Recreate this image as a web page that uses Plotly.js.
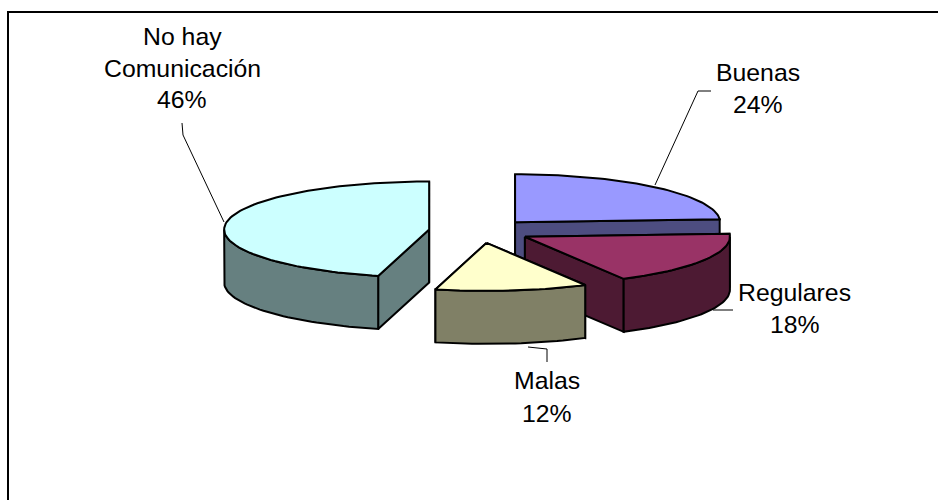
<!DOCTYPE html>
<html>
<head>
<meta charset="utf-8">
<script src="https://cdn.plot.ly/plotly-3.0.1.min.js"></script>
<style>html,body{margin:0;padding:0;background:#fff}#chart{width:938px;height:500px}</style>
</head>
<body>
<div id="chart"></div>
<script>
// Data
const categories = ["Buenas", "Regulares", "Malas", "No hay Comunicación"];
const values = [24, 18, 12, 46];
const topColors = ["#9999FF", "#993366", "#FFFFCC", "#CCFFFF"];
const sideColors = ["#4D4D80", "#4D1A33", "#808066", "#668080"];

// Projection of the tilted pie, in the pixel-sized axis space
const pie = {cx: 480, cy: 231, rx: 205, ry: 48, depth: 53, explode: 0.25};
const drawOrder = [0, 3, 1, 2];
const labelLines = [["Buenas"], ["Regulares"], ["Malas"], ["No hay", "Comunicación"]];
const labelPlace = [
  {x: 758, base: 81, step: 32},
  {x: 794.5, base: 301, step: 31.5},
  {x: 547, base: 389, step: 32.5},
  {x: 182, base: 45, step: 31.5}
];
const leaders = [
  "M711,91 L698,91 L655,185",
  "M733,310 L713,310",
  "M547,362 L547,349 L528,347",
  "M182,123 L183,135 L224,222"
];
const fontSize = 24.8;

const total = values.reduce((a, b) => a + b, 0);
const traces = [];
function polygon(xs, ys, fill) {
  traces.push({
    type: "scatter", mode: "lines", x: xs.concat(xs[0]), y: ys.concat(ys[0]),
    fill: "toself", fillcolor: fill,
    line: {color: "#000", width: 2}, hoverinfo: "skip", showlegend: false
  });
}
function arc(s, from, to) {
  const n = Math.max(4, Math.round((to - from) / 0.03));
  const xs = [], ys = [];
  for (let k = 0; k <= n; k++) {
    const t = from + (to - from) * k / n;
    xs.push(s.ox + pie.rx * Math.sin(t));
    ys.push(s.oy - pie.ry * Math.cos(t));
  }
  return {xs, ys};
}
let cum = 0;
const slices = values.map((v) => {
  const a0 = cum / total * 2 * Math.PI;
  cum += v;
  const a1 = cum / total * 2 * Math.PI;
  const mid = (a0 + a1) / 2;
  return {
    a0, a1,
    ox: pie.cx + pie.explode * pie.rx * Math.sin(mid),
    oy: pie.cy - pie.explode * pie.ry * Math.cos(mid)
  };
});
drawOrder.forEach((i) => {
  const s = slices[i];
  const d = pie.depth;
  const top = arc(s, s.a0, s.a1);
  const ax = top.xs, ay = top.ys, last = ax.length - 1;
  // radial faces
  polygon([s.ox, ax[0], ax[0], s.ox], [s.oy, ay[0], ay[0] + d, s.oy + d], sideColors[i]);
  polygon([s.ox, ax[last], ax[last], s.ox], [s.oy, ay[last], ay[last] + d, s.oy + d], sideColors[i]);
  // outer wall: only the part of the rim that faces the viewer
  const from = Math.max(s.a0, Math.PI / 2), to = Math.min(s.a1, 3 * Math.PI / 2);
  if (to > from) {
    const w = arc(s, from, to);
    polygon(w.xs.concat(w.xs.slice().reverse()), w.ys.concat(w.ys.slice().reverse().map((y) => y + d)), sideColors[i]);
  }
  // top
  polygon([s.ox].concat(ax), [s.oy].concat(ay), topColors[i]);
});

const annotations = [];
categories.forEach((c, i) => {
  const lines = labelLines[i].concat(values[i] + "%");
  const p = labelPlace[i];
  lines.forEach((t, j) => {
    annotations.push({
      x: p.x, y: p.base + j * p.step - 8.5, xref: "x", yref: "y",
      text: t, showarrow: false, xanchor: "center", yanchor: "middle",
      font: {family: "Liberation Sans, Arial, sans-serif", size: fontSize, color: "#000"}
    });
  });
});

const shapes = leaders.map((p) => ({
  type: "path", path: p, xref: "x", yref: "y", line: {color: "#000", width: 1}
}));
shapes.push({type: "line", xref: "x", yref: "y", x0: 7, x1: 938, y0: 12, y1: 12, line: {color: "#000", width: 2}});
shapes.push({type: "line", xref: "x", yref: "y", x0: 8, x1: 8, y0: 11, y1: 500, line: {color: "#000", width: 2}});

Plotly.newPlot("chart", traces, {
  width: 938, height: 500,
  margin: {l: 0, r: 0, t: 0, b: 0, pad: 0},
  paper_bgcolor: "#fff", plot_bgcolor: "#fff",
  showlegend: false,
  xaxis: {range: [0, 938], visible: false, fixedrange: true},
  yaxis: {range: [500, 0], visible: false, fixedrange: true},
  annotations, shapes
}, {staticPlot: true, displayModeBar: false});
</script>
</body>
</html>
